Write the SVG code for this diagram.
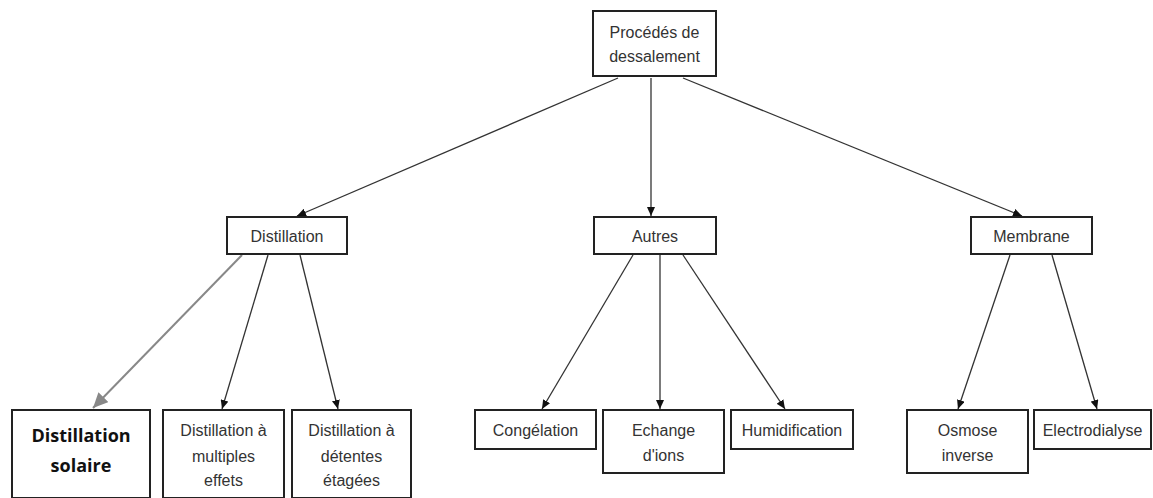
<svg xmlns="http://www.w3.org/2000/svg" width="1153" height="498" viewBox="0 0 1153 498">
<style>
.box{fill:#fff;stroke:#222;stroke-width:2}
.t{font-family:"Liberation Sans",Arial,sans-serif;font-size:16px;fill:#333;text-anchor:middle}
.b{font-family:"Open Sans","Noto Sans",sans-serif;font-size:18px;font-weight:bold;fill:#111;text-anchor:middle}
.c{stroke:#333;stroke-width:1.3;fill:none;marker-end:url(#ah)}
.g{stroke:#888;stroke-width:2;fill:none;marker-end:url(#gh)}
</style>
<defs>
<marker id="ah" markerUnits="userSpaceOnUse" markerWidth="10" markerHeight="8" refX="9" refY="4" orient="auto"><path d="M0,0 L9,4 L0,8 Z" fill="#111"/></marker>
<marker id="gh" markerUnits="userSpaceOnUse" markerWidth="16" markerHeight="14" refX="15" refY="7" orient="auto"><path d="M0,0 L15,7 L0,14 Z" fill="#888"/></marker>
</defs>
<rect width="1153" height="498" fill="#fff"/>
<g id="connectors">
<path class="c" d="M618,78 L297,216"/>
<path class="c" d="M651,78 L651,216"/>
<path class="c" d="M683,78 L1022,216"/>
<path class="g" d="M242,255 L93,408"/>
<path class="c" d="M268,255 L222,409"/>
<path class="c" d="M300,255 L338,409"/>
<path class="c" d="M633,255 L542,409"/>
<path class="c" d="M660,255 L660,409"/>
<path class="c" d="M683,255 L785,409"/>
<path class="c" d="M1010,255 L958,409"/>
<path class="c" d="M1052,255 L1097,409"/>
</g>
<g id="n-root"><rect class="box" x="593" y="11" width="123" height="65"/><text class="t" x="654.5" y="38">Procédés de</text><text class="t" x="654.5" y="62">dessalement</text></g>
<g id="n-distillation"><rect class="box" x="227" y="217" width="120" height="37"/><text class="t" x="287" y="242">Distillation</text></g>
<g id="n-autres"><rect class="box" x="594" y="217" width="122" height="37"/><text class="t" x="655" y="242">Autres</text></g>
<g id="n-membrane"><rect class="box" x="971" y="217" width="121" height="37"/><text class="t" x="1031.5" y="242">Membrane</text></g>
<g id="n-solaire"><rect class="box" x="12" y="410" width="138" height="88"/><text class="b" x="81" y="442">Distillation</text><text class="b" x="81" y="472">solaire</text></g>
<g id="n-multiples"><rect class="box" x="163" y="410" width="121" height="88"/><text class="t" x="223.5" y="436">Distillation à</text><text class="t" x="223.5" y="462">multiples</text><text class="t" x="223.5" y="486">effets</text></g>
<g id="n-detentes"><rect class="box" x="292" y="410" width="119" height="88"/><text class="t" x="351.5" y="436">Distillation à</text><text class="t" x="351.5" y="462">détentes</text><text class="t" x="351.5" y="486">étagées</text></g>
<g id="n-congelation"><rect class="box" x="475" y="410" width="121" height="39"/><text class="t" x="535.5" y="436">Congélation</text></g>
<g id="n-echange"><rect class="box" x="603" y="410" width="121" height="63"/><text class="t" x="663.5" y="436">Echange</text><text class="t" x="663.5" y="461">d'ions</text></g>
<g id="n-humidification"><rect class="box" x="731" y="410" width="122" height="39"/><text class="t" x="792" y="436">Humidification</text></g>
<g id="n-osmose"><rect class="box" x="907" y="410" width="121" height="63"/><text class="t" x="967.5" y="436">Osmose</text><text class="t" x="967.5" y="461">inverse</text></g>
<g id="n-electrodialyse"><rect class="box" x="1034" y="410" width="117" height="39"/><text class="t" x="1092.5" y="436">Electrodialyse</text></g>
</svg>
